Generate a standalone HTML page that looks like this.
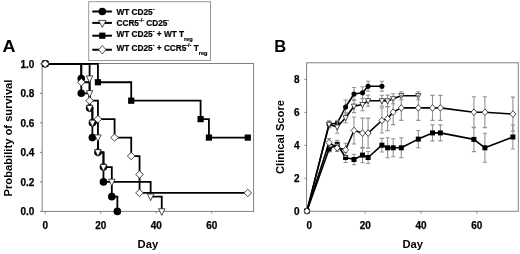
<!DOCTYPE html><html><head><meta charset="utf-8"><title>chart</title><style>
html,body{margin:0;padding:0;background:#fff;}
body{width:520px;height:254px;position:relative;overflow:hidden;font-family:"Liberation Sans",sans-serif;font-weight:bold;color:#000;}
.t{position:absolute;white-space:nowrap;line-height:1;}
#w{position:absolute;left:0;top:0;width:520px;height:254px;will-change:transform;}
.tk{font-size:10px;-webkit-text-stroke:0.25px #000;}
.lg{font-size:8.25px;-webkit-text-stroke:0.2px #000;}
.lg sup{font-size:5.3px;vertical-align:baseline;position:relative;top:-4.2px;line-height:0;}
.lg sub{font-size:5.6px;vertical-align:baseline;position:relative;top:3.3px;line-height:0;}
</style></head><body><div id="w">
<svg width="520" height="254" viewBox="0 0 520 254" style="position:absolute;left:0;top:0">
<rect x="42.2" y="63.5" width="211.4" height="147.9" fill="none" stroke="#808080" stroke-width="1"/>
<line x1="40" y1="211.4" x2="42.2" y2="211.4" stroke="#808080" stroke-width="1"/>
<line x1="40" y1="181.88" x2="42.2" y2="181.88" stroke="#808080" stroke-width="1"/>
<line x1="40" y1="152.36" x2="42.2" y2="152.36" stroke="#808080" stroke-width="1"/>
<line x1="40" y1="122.84" x2="42.2" y2="122.84" stroke="#808080" stroke-width="1"/>
<line x1="40" y1="93.32" x2="42.2" y2="93.32" stroke="#808080" stroke-width="1"/>
<line x1="40" y1="63.8" x2="42.2" y2="63.8" stroke="#808080" stroke-width="1"/>
<line x1="45.2" y1="211.4" x2="45.2" y2="213.6" stroke="#808080" stroke-width="1"/>
<line x1="100.7" y1="211.4" x2="100.7" y2="213.6" stroke="#808080" stroke-width="1"/>
<line x1="156.2" y1="211.4" x2="156.2" y2="213.6" stroke="#808080" stroke-width="1"/>
<line x1="211.7" y1="211.4" x2="211.7" y2="213.6" stroke="#808080" stroke-width="1"/>
<path d="M45.2 63.8 H81.28 V78.56 V93.32 H89.6 V108.08 H92.38 V122.84 V137.6 H97.93 V152.36 H103.47 V167.12 V181.88 H111.8 V196.64 H117.35 V211.4" fill="none" stroke="#000" stroke-width="1.8" stroke-linejoin="miter"/>
<path d="M45.2 63.8 H89.6 V78.56 V93.32 V108.08 H92.38 V122.84 H97.93 V137.6 V152.36 H103.47 V167.12 H111.8 V181.88 H150.65 V196.64 H161.75 V211.4" fill="none" stroke="#000" stroke-width="1.8" stroke-linejoin="miter"/>
<path d="M45.2 63.8 H97.93 V82.25 H131.22 V100.7 H200.6 V119.15 H208.93 V137.6 H247.77" fill="none" stroke="#000" stroke-width="1.8" stroke-linejoin="miter"/>
<path d="M45.2 63.8 H81.28 V82.25 H89.6 V100.7 H97.93 V119.15 H114.58 V137.6 H131.22 V156.05 H139.55 V174.5 V192.95 H247.77" fill="none" stroke="#000" stroke-width="1.8" stroke-linejoin="miter"/>
<circle cx="45.2" cy="63.8" r="3.8" fill="#000"/>
<circle cx="81.28" cy="78.56" r="3.8" fill="#000"/>
<circle cx="81.28" cy="93.32" r="3.8" fill="#000"/>
<circle cx="89.6" cy="108.08" r="3.8" fill="#000"/>
<circle cx="92.38" cy="122.84" r="3.8" fill="#000"/>
<circle cx="92.38" cy="137.6" r="3.8" fill="#000"/>
<circle cx="97.93" cy="152.36" r="3.8" fill="#000"/>
<circle cx="103.47" cy="167.12" r="3.8" fill="#000"/>
<circle cx="103.47" cy="181.88" r="3.8" fill="#000"/>
<circle cx="111.8" cy="196.64" r="3.8" fill="#000"/>
<circle cx="117.35" cy="211.4" r="3.8" fill="#000"/>
<path d="M42 61.12 L48.4 61.12 L45.2 67.82 Z" fill="#fff" stroke="#222" stroke-width="0.8"/>
<path d="M86.4 75.88 L92.8 75.88 L89.6 82.58 Z" fill="#fff" stroke="#222" stroke-width="0.8"/>
<path d="M86.4 90.64 L92.8 90.64 L89.6 97.34 Z" fill="#fff" stroke="#222" stroke-width="0.8"/>
<path d="M86.4 105.4 L92.8 105.4 L89.6 112.1 Z" fill="#fff" stroke="#222" stroke-width="0.8"/>
<path d="M89.17 120.16 L95.58 120.16 L92.38 126.86 Z" fill="#fff" stroke="#222" stroke-width="0.8"/>
<path d="M94.73 134.92 L101.13 134.92 L97.93 141.62 Z" fill="#fff" stroke="#222" stroke-width="0.8"/>
<path d="M94.73 149.68 L101.13 149.68 L97.93 156.38 Z" fill="#fff" stroke="#222" stroke-width="0.8"/>
<path d="M100.27 164.44 L106.67 164.44 L103.47 171.14 Z" fill="#fff" stroke="#222" stroke-width="0.8"/>
<path d="M108.6 179.2 L115 179.2 L111.8 185.9 Z" fill="#fff" stroke="#222" stroke-width="0.8"/>
<path d="M147.45 193.96 L153.85 193.96 L150.65 200.66 Z" fill="#fff" stroke="#222" stroke-width="0.8"/>
<path d="M158.55 208.72 L164.95 208.72 L161.75 215.42 Z" fill="#fff" stroke="#222" stroke-width="0.8"/>
<rect x="42.1" y="60.7" width="6.2" height="6.2" fill="#000"/>
<rect x="94.83" y="79.15" width="6.2" height="6.2" fill="#000"/>
<rect x="128.12" y="97.6" width="6.2" height="6.2" fill="#000"/>
<rect x="197.5" y="116.05" width="6.2" height="6.2" fill="#000"/>
<rect x="205.83" y="134.5" width="6.2" height="6.2" fill="#000"/>
<rect x="244.67" y="134.5" width="6.2" height="6.2" fill="#000"/>
<path d="M41.3 63.8 L45.2 60.17 L49.1 63.8 L45.2 67.43 Z" fill="#fff" stroke="#222" stroke-width="0.8"/>
<path d="M77.38 82.25 L81.28 78.62 L85.18 82.25 L81.28 85.88 Z" fill="#fff" stroke="#222" stroke-width="0.8"/>
<path d="M85.7 100.7 L89.6 97.07 L93.5 100.7 L89.6 104.33 Z" fill="#fff" stroke="#222" stroke-width="0.8"/>
<path d="M94.03 119.15 L97.93 115.52 L101.83 119.15 L97.93 122.78 Z" fill="#fff" stroke="#222" stroke-width="0.8"/>
<path d="M110.67 137.6 L114.58 133.97 L118.48 137.6 L114.58 141.23 Z" fill="#fff" stroke="#222" stroke-width="0.8"/>
<path d="M127.32 156.05 L131.22 152.42 L135.12 156.05 L131.22 159.68 Z" fill="#fff" stroke="#222" stroke-width="0.8"/>
<path d="M135.65 174.5 L139.55 170.87 L143.45 174.5 L139.55 178.13 Z" fill="#fff" stroke="#222" stroke-width="0.8"/>
<path d="M135.65 192.95 L139.55 189.32 L143.45 192.95 L139.55 196.58 Z" fill="#fff" stroke="#222" stroke-width="0.8"/>
<path d="M243.87 192.95 L247.77 189.32 L251.67 192.95 L247.77 196.58 Z" fill="#fff" stroke="#222" stroke-width="0.8"/>
<rect x="306.6" y="62.8" width="211.7" height="148.5" fill="none" stroke="#808080" stroke-width="1"/>
<line x1="304.4" y1="211.3" x2="306.6" y2="211.3" stroke="#808080" stroke-width="1"/>
<line x1="304.4" y1="178.32" x2="306.6" y2="178.32" stroke="#808080" stroke-width="1"/>
<line x1="304.4" y1="145.34" x2="306.6" y2="145.34" stroke="#808080" stroke-width="1"/>
<line x1="304.4" y1="112.36" x2="306.6" y2="112.36" stroke="#808080" stroke-width="1"/>
<line x1="304.4" y1="79.38" x2="306.6" y2="79.38" stroke="#808080" stroke-width="1"/>
<line x1="309.4" y1="211.3" x2="309.4" y2="213.5" stroke="#808080" stroke-width="1"/>
<line x1="365.2" y1="211.3" x2="365.2" y2="213.5" stroke="#808080" stroke-width="1"/>
<line x1="421" y1="211.3" x2="421" y2="213.5" stroke="#808080" stroke-width="1"/>
<line x1="476.8" y1="211.3" x2="476.8" y2="213.5" stroke="#808080" stroke-width="1"/>
<path d="M329.1 121.2 V127.2 M327 121.2 H331.2 M327 127.2 H331.2" stroke="#939393" stroke-width="1.1" fill="none"/>
<path d="M337.2 120.3 V126.3 M335.1 120.3 H339.3 M335.1 126.3 H339.3" stroke="#939393" stroke-width="1.1" fill="none"/>
<path d="M345.6 100 V114 M343.5 100 H347.7 M343.5 114 H347.7" stroke="#939393" stroke-width="1.1" fill="none"/>
<path d="M354 87.5 V100.5 M351.9 87.5 H356.1 M351.9 100.5 H356.1" stroke="#939393" stroke-width="1.1" fill="none"/>
<path d="M362.5 86.8 V98.8 M360.4 86.8 H364.6 M360.4 98.8 H364.6" stroke="#939393" stroke-width="1.1" fill="none"/>
<path d="M368.1 81.2 V91.2 M366 81.2 H370.2 M366 91.2 H370.2" stroke="#939393" stroke-width="1.1" fill="none"/>
<path d="M381.9 81.2 V91.2 M379.8 81.2 H384 M379.8 91.2 H384" stroke="#939393" stroke-width="1.1" fill="none"/>
<path d="M306.9 211.1 L329.1 124.2 L337.2 123.3 L345.6 107 L354 94 L362.5 92.8 L368.1 86.2 L381.9 86.2" fill="none" stroke="#000" stroke-width="1.6" stroke-linejoin="round"/>
<circle cx="306.9" cy="211.1" r="2.55" fill="#000"/>
<circle cx="329.1" cy="124.2" r="2.55" fill="#000"/>
<circle cx="337.2" cy="123.3" r="2.55" fill="#000"/>
<circle cx="345.6" cy="107" r="2.55" fill="#000"/>
<circle cx="354" cy="94" r="2.55" fill="#000"/>
<circle cx="362.5" cy="92.8" r="2.55" fill="#000"/>
<circle cx="368.1" cy="86.2" r="2.55" fill="#000"/>
<circle cx="381.9" cy="86.2" r="2.55" fill="#000"/>
<path d="M329.1 120.9 V127.9 M327 120.9 H331.2 M327 127.9 H331.2" stroke="#939393" stroke-width="1.1" fill="none"/>
<path d="M337.2 120.7 V133.3 M335.1 120.7 H339.3 M335.1 133.3 H339.3" stroke="#939393" stroke-width="1.1" fill="none"/>
<path d="M345.6 112.8 V122.8 M343.5 112.8 H347.7 M343.5 122.8 H347.7" stroke="#939393" stroke-width="1.1" fill="none"/>
<path d="M354 99.8 V112.6 M351.9 99.8 H356.1 M351.9 112.6 H356.1" stroke="#939393" stroke-width="1.1" fill="none"/>
<path d="M362.5 98.3 V110.7 M360.4 98.3 H364.6 M360.4 110.7 H364.6" stroke="#939393" stroke-width="1.1" fill="none"/>
<path d="M368.1 95.3 V106.3 M366 95.3 H370.2 M366 106.3 H370.2" stroke="#939393" stroke-width="1.1" fill="none"/>
<path d="M381.9 95.3 V106.3 M379.8 95.3 H384 M379.8 106.3 H384" stroke="#939393" stroke-width="1.1" fill="none"/>
<path d="M387.6 95.1 V106.7 M385.5 95.1 H389.7 M385.5 106.7 H389.7" stroke="#939393" stroke-width="1.1" fill="none"/>
<path d="M393.2 93.8 V103.8 M391.1 93.8 H395.3 M391.1 103.8 H395.3" stroke="#939393" stroke-width="1.1" fill="none"/>
<path d="M401.3 91.7 V99.7 M399.2 91.7 H403.4 M399.2 99.7 H403.4" stroke="#939393" stroke-width="1.1" fill="none"/>
<path d="M418.3 91.7 V99.7 M416.2 91.7 H420.4 M416.2 99.7 H420.4" stroke="#939393" stroke-width="1.1" fill="none"/>
<path d="M306.9 211.1 L329.1 124.4 L337.2 127 L345.6 117.8 L354 106.2 L362.5 104.5 L368.1 100.8 L381.9 100.8 L387.6 100.9 L393.2 98.8 L401.3 95.7 L418.3 95.7" fill="none" stroke="#000" stroke-width="1.6" stroke-linejoin="round"/>
<path d="M304.25 209.02 L309.55 209.02 L306.9 214.22 Z" fill="#fff" stroke="#222" stroke-width="0.8"/>
<path d="M326.45 122.32 L331.75 122.32 L329.1 127.52 Z" fill="#fff" stroke="#222" stroke-width="0.8"/>
<path d="M334.55 124.92 L339.85 124.92 L337.2 130.12 Z" fill="#fff" stroke="#222" stroke-width="0.8"/>
<path d="M342.95 115.72 L348.25 115.72 L345.6 120.92 Z" fill="#fff" stroke="#222" stroke-width="0.8"/>
<path d="M351.35 104.12 L356.65 104.12 L354 109.32 Z" fill="#fff" stroke="#222" stroke-width="0.8"/>
<path d="M359.85 102.42 L365.15 102.42 L362.5 107.62 Z" fill="#fff" stroke="#222" stroke-width="0.8"/>
<path d="M365.45 98.72 L370.75 98.72 L368.1 103.92 Z" fill="#fff" stroke="#222" stroke-width="0.8"/>
<path d="M379.25 98.72 L384.55 98.72 L381.9 103.92 Z" fill="#fff" stroke="#222" stroke-width="0.8"/>
<path d="M384.95 98.82 L390.25 98.82 L387.6 104.02 Z" fill="#fff" stroke="#222" stroke-width="0.8"/>
<path d="M390.55 96.72 L395.85 96.72 L393.2 101.92 Z" fill="#fff" stroke="#222" stroke-width="0.8"/>
<path d="M398.65 93.62 L403.95 93.62 L401.3 98.82 Z" fill="#fff" stroke="#222" stroke-width="0.8"/>
<path d="M415.65 93.62 L420.95 93.62 L418.3 98.82 Z" fill="#fff" stroke="#222" stroke-width="0.8"/>
<path d="M329.1 146 V152 M327 146 H331.2 M327 152 H331.2" stroke="#939393" stroke-width="1.1" fill="none"/>
<path d="M337.2 140.4 V148.4 M335.1 140.4 H339.3 M335.1 148.4 H339.3" stroke="#939393" stroke-width="1.1" fill="none"/>
<path d="M345.6 152.5 V162.5 M343.5 152.5 H347.7 M343.5 162.5 H347.7" stroke="#939393" stroke-width="1.1" fill="none"/>
<path d="M354 154.2 V164.8 M351.9 154.2 H356.1 M351.9 164.8 H356.1" stroke="#939393" stroke-width="1.1" fill="none"/>
<path d="M362.5 147.4 V162.8 M360.4 147.4 H364.6 M360.4 162.8 H364.6" stroke="#939393" stroke-width="1.1" fill="none"/>
<path d="M368.1 151.5 V163.5 M366 151.5 H370.2 M366 163.5 H370.2" stroke="#939393" stroke-width="1.1" fill="none"/>
<path d="M381.9 138.4 V152 M379.8 138.4 H384 M379.8 152 H384" stroke="#939393" stroke-width="1.1" fill="none"/>
<path d="M387.6 137.8 V157.8 M385.5 137.8 H389.7 M385.5 157.8 H389.7" stroke="#939393" stroke-width="1.1" fill="none"/>
<path d="M393.2 138.8 V156.8 M391.1 138.8 H395.3 M391.1 156.8 H395.3" stroke="#939393" stroke-width="1.1" fill="none"/>
<path d="M401.3 137.8 V157.8 M399.2 137.8 H403.4 M399.2 157.8 H403.4" stroke="#939393" stroke-width="1.1" fill="none"/>
<path d="M418.3 130.5 V147.7 M416.2 130.5 H420.4 M416.2 147.7 H420.4" stroke="#939393" stroke-width="1.1" fill="none"/>
<path d="M432.5 124.9 V140.9 M430.4 124.9 H434.6 M430.4 140.9 H434.6" stroke="#939393" stroke-width="1.1" fill="none"/>
<path d="M440.4 124.9 V140.9 M438.3 124.9 H442.5 M438.3 140.9 H442.5" stroke="#939393" stroke-width="1.1" fill="none"/>
<path d="M473.9 127.2 V151.6 M471.8 127.2 H476 M471.8 151.6 H476" stroke="#939393" stroke-width="1.1" fill="none"/>
<path d="M484.9 133.3 V162.3 M482.8 133.3 H487 M482.8 162.3 H487" stroke="#939393" stroke-width="1.1" fill="none"/>
<path d="M512.9 125 V149 M510.8 125 H515 M510.8 149 H515" stroke="#939393" stroke-width="1.1" fill="none"/>
<path d="M306.9 211.1 L329.1 149 L337.2 144.4 L345.6 157.5 L354 159.5 L362.5 155.1 L368.1 157.5 L381.9 145.2 L387.6 147.8 L393.2 147.8 L401.3 147.8 L418.3 139.1 L432.5 132.9 L440.4 132.9 L473.9 139.4 L484.9 147.8 L512.9 137" fill="none" stroke="#000" stroke-width="1.6" stroke-linejoin="round"/>
<rect x="304.4" y="208.6" width="5" height="5" fill="#000"/>
<rect x="326.6" y="146.5" width="5" height="5" fill="#000"/>
<rect x="334.7" y="141.9" width="5" height="5" fill="#000"/>
<rect x="343.1" y="155" width="5" height="5" fill="#000"/>
<rect x="351.5" y="157" width="5" height="5" fill="#000"/>
<rect x="360" y="152.6" width="5" height="5" fill="#000"/>
<rect x="365.6" y="155" width="5" height="5" fill="#000"/>
<rect x="379.4" y="142.7" width="5" height="5" fill="#000"/>
<rect x="385.1" y="145.3" width="5" height="5" fill="#000"/>
<rect x="390.7" y="145.3" width="5" height="5" fill="#000"/>
<rect x="398.8" y="145.3" width="5" height="5" fill="#000"/>
<rect x="415.8" y="136.6" width="5" height="5" fill="#000"/>
<rect x="430" y="130.4" width="5" height="5" fill="#000"/>
<rect x="437.9" y="130.4" width="5" height="5" fill="#000"/>
<rect x="471.4" y="136.9" width="5" height="5" fill="#000"/>
<rect x="482.4" y="145.3" width="5" height="5" fill="#000"/>
<rect x="510.4" y="134.5" width="5" height="5" fill="#000"/>
<path d="M329.1 138.6 V146.6 M327 138.6 H331.2 M327 146.6 H331.2" stroke="#939393" stroke-width="1.1" fill="none"/>
<path d="M337.2 144.4 V151.4 M335.1 144.4 H339.3 M335.1 151.4 H339.3" stroke="#939393" stroke-width="1.1" fill="none"/>
<path d="M345.6 143.2 V156.4 M343.5 143.2 H347.7 M343.5 156.4 H347.7" stroke="#939393" stroke-width="1.1" fill="none"/>
<path d="M354 117 V144 M351.9 117 H356.1 M351.9 144 H356.1" stroke="#939393" stroke-width="1.1" fill="none"/>
<path d="M362.5 118.1 V148.1 M360.4 118.1 H364.6 M360.4 148.1 H364.6" stroke="#939393" stroke-width="1.1" fill="none"/>
<path d="M368.1 118.1 V148.1 M366 118.1 H370.2 M366 148.1 H370.2" stroke="#939393" stroke-width="1.1" fill="none"/>
<path d="M381.9 108 V133 M379.8 108 H384 M379.8 133 H384" stroke="#939393" stroke-width="1.1" fill="none"/>
<path d="M387.6 106.6 V130.6 M385.5 106.6 H389.7 M385.5 130.6 H389.7" stroke="#939393" stroke-width="1.1" fill="none"/>
<path d="M393.2 99.6 V124.6 M391.1 99.6 H395.3 M391.1 124.6 H395.3" stroke="#939393" stroke-width="1.1" fill="none"/>
<path d="M401.3 95.4 V120.4 M399.2 95.4 H403.4 M399.2 120.4 H403.4" stroke="#939393" stroke-width="1.1" fill="none"/>
<path d="M418.3 95.4 V120.4 M416.2 95.4 H420.4 M416.2 120.4 H420.4" stroke="#939393" stroke-width="1.1" fill="none"/>
<path d="M432.5 95.4 V120.4 M430.4 95.4 H434.6 M430.4 120.4 H434.6" stroke="#939393" stroke-width="1.1" fill="none"/>
<path d="M440.4 95.4 V120.4 M438.3 95.4 H442.5 M438.3 120.4 H442.5" stroke="#939393" stroke-width="1.1" fill="none"/>
<path d="M473.9 96.8 V127.6 M471.8 96.8 H476 M471.8 127.6 H476" stroke="#939393" stroke-width="1.1" fill="none"/>
<path d="M484.9 96.8 V127.6 M482.8 96.8 H487 M482.8 127.6 H487" stroke="#939393" stroke-width="1.1" fill="none"/>
<path d="M512.9 97.1 V131.1 M510.8 97.1 H515 M510.8 131.1 H515" stroke="#939393" stroke-width="1.1" fill="none"/>
<path d="M306.9 211.1 L329.1 142.6 L337.2 147.9 L345.6 149.8 L354 130.5 L362.5 133.1 L368.1 133.1 L381.9 120.5 L387.6 118.6 L393.2 112.1 L401.3 107.9 L418.3 107.9 L432.5 107.9 L440.4 107.9 L473.9 112.2 L484.9 112.2 L512.9 114.1" fill="none" stroke="#000" stroke-width="1.6" stroke-linejoin="round"/>
<path d="M303.9 211.1 L306.9 207.8 L309.9 211.1 L306.9 214.4 Z" fill="#fff" stroke="#222" stroke-width="0.8"/>
<path d="M326.1 142.6 L329.1 139.3 L332.1 142.6 L329.1 145.9 Z" fill="#fff" stroke="#222" stroke-width="0.8"/>
<path d="M334.2 147.9 L337.2 144.6 L340.2 147.9 L337.2 151.2 Z" fill="#fff" stroke="#222" stroke-width="0.8"/>
<path d="M342.6 149.8 L345.6 146.5 L348.6 149.8 L345.6 153.1 Z" fill="#fff" stroke="#222" stroke-width="0.8"/>
<path d="M351 130.5 L354 127.2 L357 130.5 L354 133.8 Z" fill="#fff" stroke="#222" stroke-width="0.8"/>
<path d="M359.5 133.1 L362.5 129.8 L365.5 133.1 L362.5 136.4 Z" fill="#fff" stroke="#222" stroke-width="0.8"/>
<path d="M365.1 133.1 L368.1 129.8 L371.1 133.1 L368.1 136.4 Z" fill="#fff" stroke="#222" stroke-width="0.8"/>
<path d="M378.9 120.5 L381.9 117.2 L384.9 120.5 L381.9 123.8 Z" fill="#fff" stroke="#222" stroke-width="0.8"/>
<path d="M384.6 118.6 L387.6 115.3 L390.6 118.6 L387.6 121.9 Z" fill="#fff" stroke="#222" stroke-width="0.8"/>
<path d="M390.2 112.1 L393.2 108.8 L396.2 112.1 L393.2 115.4 Z" fill="#fff" stroke="#222" stroke-width="0.8"/>
<path d="M398.3 107.9 L401.3 104.6 L404.3 107.9 L401.3 111.2 Z" fill="#fff" stroke="#222" stroke-width="0.8"/>
<path d="M415.3 107.9 L418.3 104.6 L421.3 107.9 L418.3 111.2 Z" fill="#fff" stroke="#222" stroke-width="0.8"/>
<path d="M429.5 107.9 L432.5 104.6 L435.5 107.9 L432.5 111.2 Z" fill="#fff" stroke="#222" stroke-width="0.8"/>
<path d="M437.4 107.9 L440.4 104.6 L443.4 107.9 L440.4 111.2 Z" fill="#fff" stroke="#222" stroke-width="0.8"/>
<path d="M470.9 112.2 L473.9 108.9 L476.9 112.2 L473.9 115.5 Z" fill="#fff" stroke="#222" stroke-width="0.8"/>
<path d="M481.9 112.2 L484.9 108.9 L487.9 112.2 L484.9 115.5 Z" fill="#fff" stroke="#222" stroke-width="0.8"/>
<path d="M509.9 114.1 L512.9 110.8 L515.9 114.1 L512.9 117.4 Z" fill="#fff" stroke="#222" stroke-width="0.8"/>
<rect x="88.7" y="1.7" width="121.8" height="58.8" fill="#fff" stroke="#999" stroke-width="1"/>
<line x1="92.3" y1="11.5" x2="111.9" y2="11.5" stroke="#000" stroke-width="2"/>
<circle cx="102.3" cy="11.5" r="3.8" fill="#000"/>
<line x1="92.3" y1="22.9" x2="111.9" y2="22.9" stroke="#000" stroke-width="2"/>
<path d="M98.5 20.4 L106.1 20.4 L102.3 27.4 Z" fill="#fff" stroke="#222" stroke-width="0.8"/>
<line x1="92.3" y1="35.7" x2="111.9" y2="35.7" stroke="#000" stroke-width="2"/>
<rect x="99.2" y="32.6" width="6.2" height="6.2" fill="#000"/>
<line x1="92.3" y1="49.75" x2="111.9" y2="49.75" stroke="#000" stroke-width="2"/>
<path d="M98.6 49.75 L102.3 45.55 L106 49.75 L102.3 53.95 Z" fill="#fff" stroke="#222" stroke-width="0.8"/>
</svg>
<div class="t " style="left:3.1px;top:38px;font-size:16.5px;transform:scaleX(1.09);">A</div>
<div class="t " style="left:274.3px;top:38.3px;font-size:16.5px;">B</div>
<div class="t tk" style="right:485.6px;top:207.1px;">0.0</div>
<div class="t tk" style="right:485.6px;top:177.58px;">0.2</div>
<div class="t tk" style="right:485.6px;top:148.06px;">0.4</div>
<div class="t tk" style="right:485.6px;top:118.54px;">0.6</div>
<div class="t tk" style="right:485.6px;top:89.02px;">0.8</div>
<div class="t tk" style="right:485.6px;top:59.5px;">1.0</div>
<div class="t tk" style="left:25.2px;top:220.6px;width:40px;text-align:center;">0</div>
<div class="t tk" style="left:80.7px;top:220.6px;width:40px;text-align:center;">20</div>
<div class="t tk" style="left:136.2px;top:220.6px;width:40px;text-align:center;">40</div>
<div class="t tk" style="left:191.7px;top:220.6px;width:40px;text-align:center;">60</div>
<div class="t tk" style="right:220.5px;top:207.3px;">0</div>
<div class="t tk" style="right:220.5px;top:174.32px;">2</div>
<div class="t tk" style="right:220.5px;top:141.34px;">4</div>
<div class="t tk" style="right:220.5px;top:108.36px;">6</div>
<div class="t tk" style="right:220.5px;top:75.38px;">8</div>
<div class="t tk" style="left:289.4px;top:220.6px;width:40px;text-align:center;">0</div>
<div class="t tk" style="left:345.2px;top:220.6px;width:40px;text-align:center;">20</div>
<div class="t tk" style="left:401px;top:220.6px;width:40px;text-align:center;">40</div>
<div class="t tk" style="left:456.8px;top:220.6px;width:40px;text-align:center;">60</div>
<div class="t " style="left:137.6px;top:239.2px;font-size:11.2px;">Day</div>
<div class="t " style="left:402.4px;top:239.4px;font-size:11.2px;">Day</div>
<div class="t" style="left:8.5px;top:137.9px;font-size:11.2px;transform:translate(-50%,-50%) rotate(-90deg);">Probability of survival</div>
<div class="t" style="left:281.2px;top:136.9px;font-size:11.2px;transform:translate(-50%,-50%) rotate(-90deg);">Clinical Score</div>
<div class="t lg" style="left:116.5px;top:8.8px;">WT CD25<sup>-</sup></div>
<div class="t lg" style="left:116.5px;top:20.4px;">CCR5<sup>-/-</sup> CD25<sup>-</sup></div>
<div class="t lg" style="left:116.5px;top:31.4px;">WT CD25<sup>-</sup> + WT T<sub>reg</sub></div>
<div class="t lg" style="left:116.5px;top:45.4px;">WT CD25<sup>-</sup> + CCR5<sup>-/-</sup> T<sub>reg</sub></div>
</div></body></html>
